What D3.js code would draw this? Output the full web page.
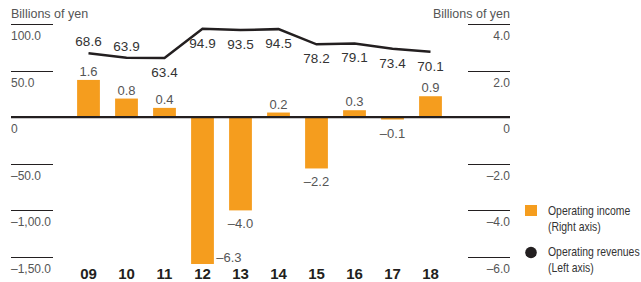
<!DOCTYPE html>
<html>
<head>
<meta charset="utf-8">
<script src="https://cdn.jsdelivr.net/npm/d3@7/dist/d3.min.js"></script>
<style>
  body { margin: 0; background: #fff; }
  svg text { font-family: "Liberation Sans", Arial, sans-serif; }
</style>
</head>
<body>
<div id="chart"></div>
<script>
// data
var years = ["09", "10", "11", "12", "13", "14", "15", "16", "17", "18"];
var income = [1.6, 0.8, 0.4, -6.3, -4.0, 0.2, -2.2, 0.3, -0.1, 0.9];      // right axis
var revenues = [68.6, 63.9, 63.4, 94.9, 93.5, 94.5, 78.2, 79.1, 73.4, 70.1]; // left axis
var leftTicks = [100, 50, 0, -50, -100, -150];
var leftLabels = ["100.0", "50.0", "0", "\u201350.0", "\u20131,00.0", "\u20131,50.0"];
var rightTicks = [4, 2, 0, -2, -4, -6];
var rightLabels = ["4.0", "2.0", "0", "\u20132.0", "\u20134.0", "\u20136.0"];

var width = 641, height = 282;
var orange = "#f59d1e", dark = "#231f20", grey = "#555";

var svg = d3.select("#chart").append("svg")
    .attr("width", width)
    .attr("height", height);

var x = d3.scaleBand()
    .domain(years)
    .range([69.5, 449.5])
    .paddingInner(0.4)
    .paddingOuter(0.2);

var yL = d3.scaleLinear().domain([-150, 100]).range([257, 24]);
var yR = d3.scaleLinear().domain([-6, 4]).range([257, 24]);

function fmt(v) {
    return (v < 0 ? "\u2013" : "") + Math.abs(v).toFixed(1);
}

// axis titles
svg.append("text").text("Billions of yen")
    .attr("x", 11).attr("y", 18)
    .attr("font-size", "12.5px").attr("fill", grey);
svg.append("text").text("Billions of yen")
    .attr("x", 510).attr("y", 18).attr("text-anchor", "end")
    .attr("font-size", "12.5px").attr("fill", grey);

// tick lines + labels, left
var lt = svg.append("g").selectAll("g").data(leftTicks).enter().append("g");
lt.filter(function(d){ return d != 0; }).append("line")
    .attr("x1", 11).attr("x2", 53)
    .attr("y1", function(d){ return Math.round(yL(d)) + 0.5; })
    .attr("y2", function(d){ return Math.round(yL(d)) + 0.5; })
    .attr("stroke", dark).attr("stroke-width", 1);
lt.append("text")
    .text(function(d, i){ return leftLabels[i]; })
    .attr("x", 11)
    .attr("y", function(d){ return yL(d) + 16; })
    .attr("font-size", "12px").attr("fill", grey);

// right
var rt = svg.append("g").selectAll("g").data(rightTicks).enter().append("g");
rt.filter(function(d){ return d != 0; }).append("line")
    .attr("x1", 468).attr("x2", 510)
    .attr("y1", function(d){ return Math.round(yR(d)) + 0.5; })
    .attr("y2", function(d){ return Math.round(yR(d)) + 0.5; })
    .attr("stroke", dark).attr("stroke-width", 1);
rt.append("text")
    .text(function(d, i){ return rightLabels[i]; })
    .attr("x", 510)
    .attr("y", function(d){ return yR(d) + 16; })
    .attr("text-anchor", "end")
    .attr("font-size", "12px").attr("fill", grey);

// bars
svg.append("g").selectAll("rect").data(income).enter().append("rect")
    .attr("x", function(d, i){ return x(years[i]); })
    .attr("width", x.bandwidth())
    .attr("y", function(d){ return Math.min(yR(d), yR(0)); })
    .attr("height", function(d){ return Math.abs(yR(d) - yR(0)); })
    .attr("fill", orange);

// bar labels
svg.append("g").selectAll("text").data(income).enter().append("text")
    .text(function(d){ return fmt(d); })
    .attr("x", function(d, i){
        var cx = x(years[i]) + x.bandwidth() / 2;
        if (d < 0 && yR(d) + 20 > yR(-6)) return cx + x.bandwidth() / 2 + 15;
        return cx;
    })
    .attr("y", function(d){
        if (d >= 0) return yR(d) - 4;
        if (yR(d) + 20 > yR(-6)) return yR(d) - 2;
        return yR(d) + 18;
    })
    .attr("text-anchor", "middle")
    .attr("font-size", "13px").attr("fill", grey);

// zero line
svg.append("line")
    .attr("x1", 11).attr("x2", 510)
    .attr("y1", yR(0)).attr("y2", yR(0))
    .attr("stroke", dark).attr("stroke-width", 2.2);

// revenue line
var line = d3.line()
    .x(function(d, i){ return x(years[i]) + x.bandwidth() / 2; })
    .y(function(d){ return yL(d); });
svg.append("path").datum(revenues)
    .attr("d", line)
    .attr("fill", "none")
    .attr("stroke", dark).attr("stroke-width", 2.5);

svg.append("g").selectAll("text").data(revenues).enter().append("text")
    .text(function(d){ return d.toFixed(1); })
    .attr("x", function(d, i){ return x(years[i]) + x.bandwidth() / 2; })
    .attr("y", function(d, i){ return i < 2 ? yL(d) - 7 : yL(d) + 19; })
    .attr("text-anchor", "middle")
    .attr("font-size", "13.5px").attr("fill", "#333");

// year labels
svg.append("g").selectAll("text").data(years).enter().append("text")
    .text(function(d){ return d; })
    .attr("x", function(d){ return x(d) + x.bandwidth() / 2; })
    .attr("y", 279)
    .attr("text-anchor", "middle")
    .attr("font-size", "15px").attr("font-weight", "bold").attr("fill", dark);

// legend (condensed text, squeezed horizontally)
var lg = svg.append("g").attr("font-size", "12px").attr("fill", "#333");
lg.append("rect").attr("x", 525).attr("y", 205).attr("width", 12).attr("height", 11).attr("fill", orange);
lg.append("circle").attr("cx", 531).attr("cy", 252.5).attr("r", 5.8).attr("fill", dark);
var legendLines = [["Operating income", 215], ["(Right axis)", 231], ["Operating revenues", 256], ["(Left axis)", 272]];
legendLines.forEach(function(l){
    lg.append("text").text(l[0])
        .attr("transform", "translate(548," + l[1] + ") scale(0.87,1)");
});
</script>
</body>
</html>
